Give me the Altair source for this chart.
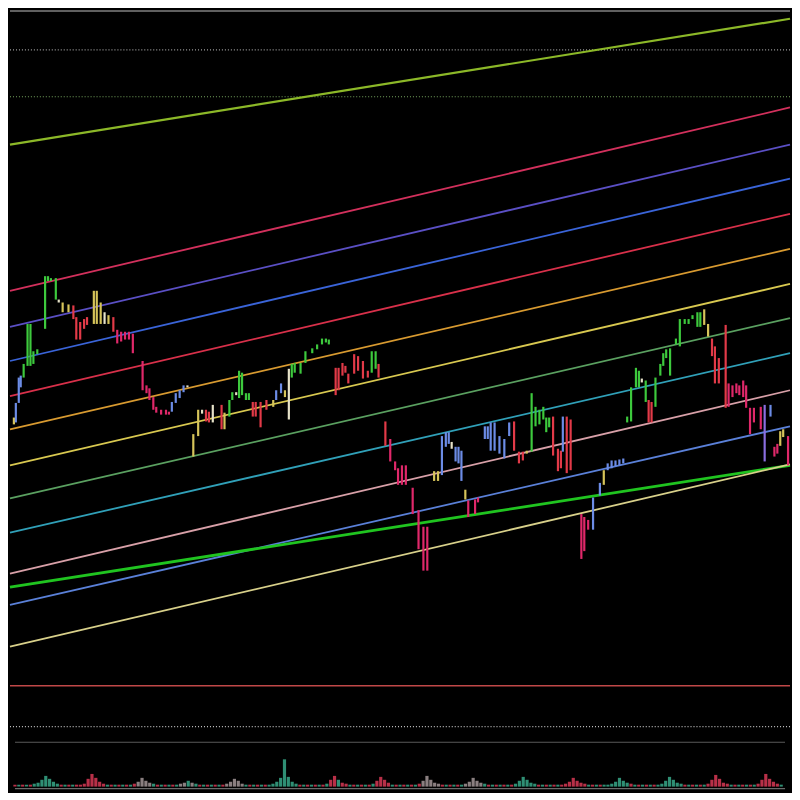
import altair as alt
import pandas as pd

W = 784
H_PRICE = 735
H_VOL = 49

# ---------------- price bars (time, high, low, colour code) ----------------
bar_time = [4, 6, 9, 11, 14, 18, 21, 24, 28, 36,
            39, 42, 47, 50, 54, 60, 65, 68, 72, 76,
            79, 86, 89, 93, 97, 101, 106, 110, 114, 118,
            122, 126, 136, 140, 143, 147, 150, 155, 160, 163,
            166, 170, 174, 178, 182, 188, 193, 197, 201, 204,
            208, 217, 220, 225, 228, 232, 235, 238, 242, 245,
            249, 252, 257, 263, 270, 273, 278, 282, 286, 289,
            292, 298, 303, 310, 315, 320, 324, 327, 334, 337,
            341, 344, 347, 353, 357, 362, 367, 371, 375, 378,
            385, 390, 395, 398, 402, 406, 413, 419, 424, 428,
            435, 439, 443, 447, 450, 453, 457, 460, 463, 467,
            470, 477, 480, 487, 490, 493, 497, 502, 507, 512,
            517, 522, 526, 530, 535, 539, 543, 547, 550, 553,
            557, 562, 565, 567, 571, 575, 586, 589, 593, 598,
            605, 609, 613, 617, 621, 625, 629, 633, 637, 642,
            645, 648, 652, 655, 658, 662, 667, 670, 673, 677,
            683, 687, 692, 696, 700, 705, 708, 712, 716, 720,
            723, 727, 734, 737, 741, 745, 748, 752, 755, 759,
            763, 770, 774, 780, 784, 787, 790, 793, 798]
bar_high = [382, 397, 423, 425, 437, 478, 478, 450, 452, 527,
            527, 525, 525, 503, 500, 498, 497, 485, 480, 483,
            485, 512, 512, 500, 490, 487, 485, 472, 470, 470,
            470, 468, 440, 415, 412, 403, 393, 390, 390, 388,
            398, 407, 410, 415, 415, 365, 390, 390, 390, 388,
            395, 395, 387, 400, 408, 408, 430, 428, 407, 407,
            398, 398, 398, 400, 400, 410, 417, 410, 432, 437,
            438, 438, 450, 453, 457, 463, 463, 462, 433, 433,
            438, 435, 427, 447, 445, 440, 430, 450, 450, 437,
            378, 360, 337, 330, 333, 333, 310, 287, 270, 270,
            327, 327, 363, 367, 367, 357, 352, 352, 348, 308,
            297, 298, 300, 373, 373, 377, 377, 363, 360, 377,
            378, 347, 347, 348, 407, 393, 390, 393, 382, 382,
            383, 350, 348, 383, 383, 380, 283, 280, 277, 300,
            315, 328, 335, 338, 338, 339, 340, 383, 413, 433,
            430, 422, 420, 400, 398, 423, 437, 448, 452, 453,
            463, 483, 483, 483, 487, 490, 490, 493, 478, 463,
            455, 443, 477, 417, 415, 417, 415, 420, 415, 392,
            392, 393, 395, 395, 352, 355, 368, 370, 363]
bar_low = [375, 377, 397, 413, 423, 435, 435, 437, 447, 473,
           522, 522, 503, 500, 490, 490, 483, 462, 462, 473,
           477, 478, 478, 478, 478, 478, 470, 458, 460, 462,
           462, 448, 410, 407, 400, 390, 387, 385, 385, 385,
           388, 397, 402, 408, 413, 342, 363, 386, 378, 377,
           377, 370, 370, 383, 400, 405, 402, 405, 400, 400,
           383, 383, 372, 390, 393, 400, 407, 403, 380, 423,
           428, 427, 438, 448, 452, 457, 459, 457, 405, 410,
           425, 428, 417, 427, 430, 422, 423, 428, 432, 423,
           353, 337, 328, 313, 313, 313, 283, 247, 225, 225,
           317, 317, 323, 352, 355, 350, 337, 335, 317, 298,
           280, 283, 295, 360, 360, 348, 348, 345, 340, 363,
           348, 335, 338, 345, 347, 373, 375, 380, 367, 372,
           343, 327, 330, 347, 325, 328, 237, 245, 267, 267,
           302, 313, 328, 330, 332, 333, 335, 377, 378, 413,
           413, 418, 398, 377, 377, 393, 425, 435, 443, 425,
           457, 455, 478, 478, 483, 475, 475, 477, 465, 445,
           417, 417, 392, 393, 403, 407, 405, 403, 392, 365,
           377, 370, 337, 383, 342, 345, 353, 362, 333]
bar_code = list("KBBBGGGGGG" "GGGWKKRRRR" "RKKKWKRPPP" "PPPPPPPPPP" "BBBBWKKWRR"
                "WRKGGWGGGG" "RRRRKBBKWG" "GGGGGGGGRR" "RRRRRRRGGR" "RPPPPPPPPP"
                "KKBBBWBBBK" "PPPBBBBBBB" "RRRKGGGGGG" "RRRBRRPPPB" "BKBBBBBGGG"
                "GWGRRGGGGG" "GGGGGGGKKR" "RRRPPPPPPP" "PPVBPPKKP")

price_colors = {"G": "#3dc93d", "R": "#e23a48", "P": "#e0286a", "B": "#6c8ce6",
                "K": "#d6c45a", "W": "#e6e2c8", "V": "#8a6ee0"}

# ---------------- sloped channel lines (price at left edge, right edge) ----------------
line_left = [662, 512, 475, 440, 404, 370, 333, 299, 264, 222, 190, 208, 147]
line_right = [791, 700, 662, 627, 591, 555, 519, 484, 448, 410, 373, 333, 334]
line_color = ["#8cb828", "#d2305c", "#5a4fc4", "#3a64d8", "#d8304a", "#d89a30", "#d8c850",
              "#5aa060", "#30a0b8", "#d8a0a8", "#5a80d8", "#20c420", "#d8d08a"]
line_width = [2.2, 1.8, 1.8, 1.8, 1.8, 1.8, 1.8, 1.8, 1.8, 1.8, 1.8, 2.8, 1.8]

# ---------------- horizontal levels ----------------
level_price = [799, 759, 711, 107, 65]
level_color = ["#808080", "#a0a0a0", "#78a860", "#c04848", "#c0c0c0"]
level_dotted = [False, True, True, False, True]

# ---------------- volume ----------------
vol_values = [2, 2, 2, 2, 2, 3, 4, 7, 11, 8,
              5, 3, 2, 2, 2, 2, 2, 2, 3, 8,
              13, 9, 5, 3, 2, 2, 2, 2, 2, 2,
              2, 3, 5, 9, 6, 4, 3, 2, 2, 2,
              2, 2, 2, 3, 4, 6, 4, 3, 2, 2,
              2, 2, 2, 2, 2, 3, 5, 8, 6, 3,
              2, 2, 2, 2, 2, 2, 2, 3, 5, 9,
              28, 10, 5, 3, 2, 2, 2, 2, 2, 2,
              2, 3, 7, 11, 7, 4, 3, 2, 2, 2,
              2, 2, 2, 3, 6, 10, 7, 4, 2, 2,
              2, 2, 2, 2, 2, 3, 6, 11, 7, 4,
              3, 2, 2, 2, 2, 2, 2, 3, 5, 9,
              6, 4, 3, 2, 2, 2, 2, 2, 2, 2,
              3, 6, 10, 7, 4, 3, 2, 2, 2, 2,
              2, 2, 2, 3, 5, 9, 6, 4, 3, 2,
              2, 2, 2, 2, 2, 3, 5, 9, 6, 4,
              3, 2, 2, 2, 2, 2, 2, 2, 3, 6,
              10, 7, 4, 3, 2, 2, 2, 2, 2, 2,
              3, 7, 12, 8, 4, 3, 2, 2, 2, 2,
              2, 2, 2, 3, 7, 13, 8, 5, 3, 2]
vol_code = list("rtrtrttttt" "ttrtrtrrrr" "rrrrtrtrtr" "trggggtrtr" "trtggtgtrt"
                "rtrtrggggg" "trtrtrtttt" "ttttrtrtrt" "rtrrtrrtrt" "rtrtrrrrtr"
                "trtrtrgggg" "grtrtrtggg" "ggtrtrtrtr" "ttttttrtrt" "rtrrrrrrrt"
                "rtrttttttt" "rtrtrtrttt" "ttttrtrtrt" "rrrrrrtrtr" "trtrrrrrrt")
vol_time = list(range(0, 800, 4))
vol_colors = {"t": "#2f8f74", "r": "#b83048", "g": "#8a7f80"}

# ---------------- frames ----------------
bars = pd.DataFrame({"t": bar_time, "high": bar_high, "low": bar_low,
                     "c": [price_colors[k] for k in bar_code]})
lines = pd.DataFrame({"t0": 0, "t1": 800, "p0": line_left, "p1": line_right,
                      "c": line_color, "w": line_width})
levels = pd.DataFrame({"t0": 0, "t1": 800, "p": level_price, "c": level_color,
                       "dotted": level_dotted})
vol = pd.DataFrame({"t": vol_time, "v": vol_values, "c": [vol_colors[k] for k in vol_code]})
vol_lines = pd.DataFrame({"t0": [0, 0], "t1": [800, 800], "v": [45.5, -2.0],
                          "c": ["#5a5a5a", "#6a6a6a"]})

xs = alt.Scale(domain=[0, 800], nice=False, zero=False)
ys = alt.Scale(domain=[50, 800], nice=False, zero=False)
vs = alt.Scale(domain=[-4.5, 45.5], nice=False, zero=False)

solid = alt.Chart(levels[~levels.dotted]).mark_rule(strokeWidth=1.6).encode(
    x=alt.X("t0:Q", scale=xs, axis=None), x2="t1:Q",
    y=alt.Y("p:Q", scale=ys, axis=None), color=alt.Color("c:N", scale=None))
dotted = alt.Chart(levels[levels.dotted]).mark_rule(strokeWidth=1.2, strokeDash=[1, 2]).encode(
    x=alt.X("t0:Q", scale=xs, axis=None), x2="t1:Q",
    y=alt.Y("p:Q", scale=ys, axis=None), color=alt.Color("c:N", scale=None))
channel = alt.Chart(lines).mark_rule().encode(
    x=alt.X("t0:Q", scale=xs, axis=None), x2="t1:Q",
    y=alt.Y("p0:Q", scale=ys, axis=None), y2="p1:Q",
    color=alt.Color("c:N", scale=None), size=alt.Size("w:Q", scale=None))
ohlc = alt.Chart(bars).mark_rule(strokeWidth=2.2).encode(
    x=alt.X("t:Q", scale=xs, axis=None),
    y=alt.Y("low:Q", scale=ys, axis=None), y2="high:Q",
    color=alt.Color("c:N", scale=None))

price = alt.layer(solid, dotted, channel, ohlc).properties(width=W, height=H_PRICE)

vbars = alt.Chart(vol).mark_bar(width=3.2).encode(
    x=alt.X("t:Q", scale=xs, axis=None),
    y=alt.Y("v:Q", scale=vs, axis=None),
    color=alt.Color("c:N", scale=None))
vrules = alt.Chart(vol_lines).mark_rule(strokeWidth=1.2).encode(
    x=alt.X("t0:Q", scale=xs, axis=None), x2="t1:Q",
    y=alt.Y("v:Q", scale=vs, axis=None), color=alt.Color("c:N", scale=None))
volume = alt.layer(vbars, vrules).properties(width=W, height=H_VOL)

chart = alt.vconcat(price, volume, spacing=0).properties(
    padding=0, background="#000000"
).configure_view(strokeWidth=0).configure_concat(spacing=0)

chart.save("out.html", embed_options={"renderer": "svg", "actions": False})
